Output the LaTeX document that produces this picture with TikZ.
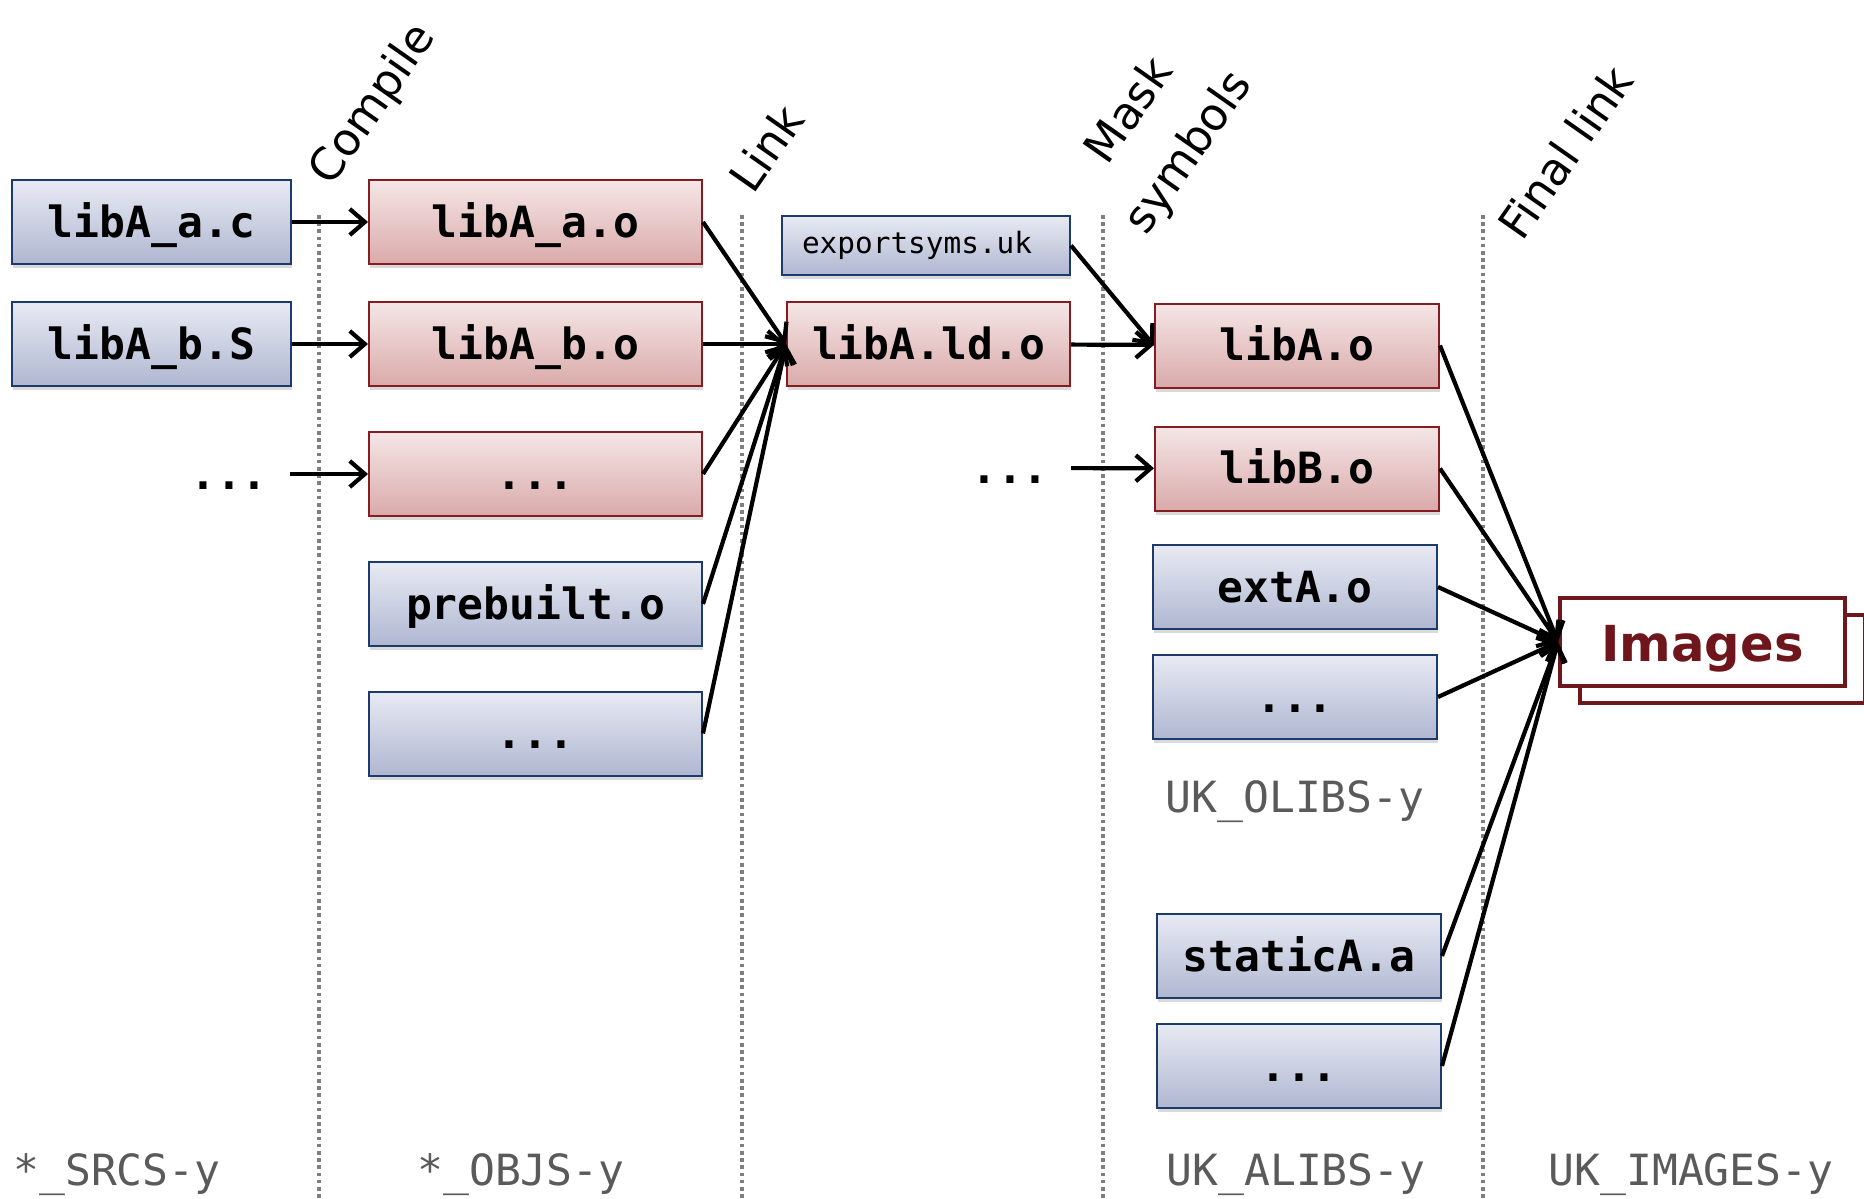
\documentclass[tikz,border=0pt]{standalone}
\usepackage{fontspec}
\setmainfont{DejaVu Sans}
\setmonofont{DejaVu Sans Mono}
\usetikzlibrary{arrows.meta,shadows}

\definecolor{bluetop}{HTML}{E8EAF3}
\definecolor{bluebot}{HTML}{AFB7D1}
\definecolor{blueedge}{HTML}{1C3A6C}
\definecolor{redtop}{HTML}{F5E6E6}
\definecolor{redbot}{HTML}{DAAAAA}
\definecolor{rededge}{HTML}{861C21}
\definecolor{imgred}{HTML}{6E161C}
\definecolor{sepgray}{HTML}{7F7F7F}
\definecolor{vargray}{HTML}{5A5A5A}

\tikzset{
  objfont/.style={font=\ttfamily\bfseries\fontsize{21.5}{26}\selectfont,
    text height=17pt, text depth=2pt},
  objbox/.style={objfont, draw, line width=1pt, minimum width=#1,
    minimum height=42pt, inner sep=0pt,
    drop shadow={shadow xshift=0.5pt, shadow yshift=-2pt, opacity=0.3}},
  bluebox/.style={objbox=#1, draw=blueedge, top color=bluetop, bottom color=bluebot},
  redbox/.style={objbox=#1, draw=rededge, top color=redtop, bottom color=redbot},
  dotsnode/.style={objfont, inner xsep=11pt},
  phase/.style={font=\fontsize{22.5}{36}\selectfont, rotate=55,
    anchor=base west, inner sep=0pt},
  varname/.style={font=\ttfamily\fontsize{21.5}{26}\selectfont, text=vargray},
  sep/.style={draw=sepgray, line width=1.8pt, dash pattern=on 1.8pt off 1.8pt},
  flow/.style={line width=2.1pt, -{Straight Barb[length=7.5pt,width=13pt]}}
}

\begin{document}
\begin{tikzpicture}[x=0.5pt, y=-0.5pt]
  \useasboundingbox (0,0) rectangle (1864,1199);

  \foreach \x in {319,742,1103,1483}
    \draw[sep] (\x,215) -- (\x,1199);

  \node[phase] at (331,188) {Compile};
  \node[phase] at (753,196) {Link};
  \node[phase, anchor=south, align=center] at (1208,166) {Mask\\symbols};
  \node[phase] at (1522,243) {Final link};

  % sources
  \node[bluebox=139.5pt] (libAac) at (151.5,222) {libA\_a.c};
  \node[bluebox=139.5pt] (libAbS) at (151.5,344) {libA\_b.S};
  \node[dotsnode] (srcdots) at (229,474) {...};

  % objects
  \node[redbox=166.5pt] (libAao) at (535.5,222) {libA\_a.o};
  \node[redbox=166.5pt] (libAbo) at (535.5,344) {libA\_b.o};
  \node[redbox=166.5pt] (objdots) at (535.5,474) {...};
  \node[bluebox=166.5pt] (prebuilt) at (535.5,604) {prebuilt.o};
  \node[bluebox=166.5pt] (bindots) at (535.5,733.5) {...};

  \node[bluebox=144pt, minimum height=29.5pt, text height=11pt, text depth=3pt,
    text width=124pt, inner xsep=10pt, align=left,
    font=\ttfamily\fontsize{14.7}{18}\selectfont] (exportsyms) at (926,245.5) {exportsyms.uk};
  \node[redbox=141.5pt] (libAld) at (928.5,344) {libA.ld.o};

  % libraries
  \node[redbox=142pt] (libAo) at (1297,345.5) {libA.o};
  \node[dotsnode] (olibdots) at (1010,468) {...};
  \node[redbox=142pt] (libBo) at (1297,468.5) {libB.o};
  \node[bluebox=142pt] (extAo) at (1295,587) {extA.o};
  \node[bluebox=142pt] (extdots) at (1295,697) {...};
  \node[varname] (olibs) at (1295,802) {UK\_OLIBS-y};
  \node[bluebox=142pt] (staticAa) at (1299,956) {staticA.a};
  \node[bluebox=142pt] (alibdots) at (1299,1066) {...};

  \node[draw=imgred, line width=2pt, fill=white, text=imgred,
    font=\bfseries\fontsize{24.8}{30}\selectfont, text height=23pt, text depth=4pt,
    minimum width=142.5pt, minimum height=44pt,
    copy shadow={shadow xshift=10pt, shadow yshift=-8.5pt}] (images) at (1702.5,642) {Images};

  \node[varname] at (117,1175) {*\_SRCS-y};
  \node[varname] at (521,1175) {*\_OBJS-y};
  \node[varname] at (1296,1175) {UK\_ALIBS-y};
  \node[varname] at (1691,1175) {UK\_IMAGES-y};

  \draw[flow] (libAac) -- (libAao);
  \draw[flow] (libAbS) -- (libAbo);
  \draw[flow] (srcdots) -- (objdots);
  \foreach \n in {libAao,libAbo,objdots,prebuilt,bindots}
    \draw[flow] (\n.east) -- (libAld.west);
  \draw[flow] (exportsyms.east) -- (libAo.west);
  \draw[flow] (libAld) -- (libAo);
  \draw[flow] (olibdots) -- (libBo);
  \foreach \n in {libAo,libBo,extAo,extdots,staticAa,alibdots}
    \draw[flow] (\n.east) -- (images.west);
\end{tikzpicture}
\end{document}
